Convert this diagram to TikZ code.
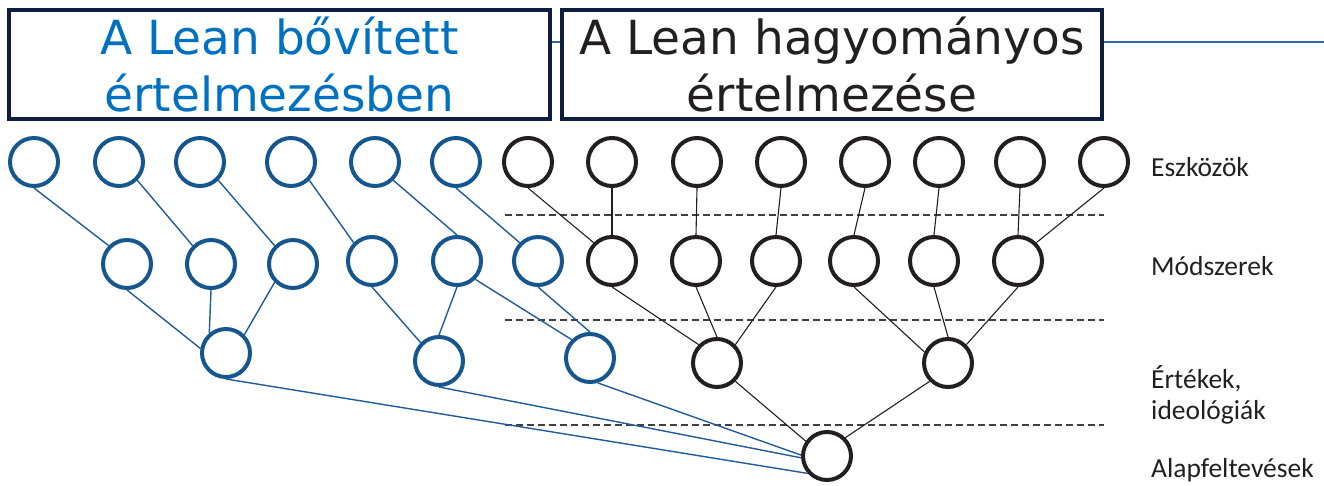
\documentclass[tikz,border=0pt]{standalone}
\usepackage{fontspec}
\setmainfont{Carlito}
\newfontfamily\titlefont{DejaVu Sans}
\definecolor{nodeblue}{HTML}{16568F}
\definecolor{lineblue}{HTML}{1F5C99}
\definecolor{titleblue}{HTML}{0070C0}
\definecolor{boxnavy}{HTML}{0E1E3E}
\definecolor{inkblack}{HTML}{231F20}
\definecolor{dashgray}{HTML}{404040}
\definecolor{rulelink}{HTML}{3A64A8}
\begin{document}
\begin{tikzpicture}[x=1pt,y=-1pt,
  bc/.style={circle, draw=nodeblue, line width=4pt, minimum size=48pt, inner sep=0pt},
  kc/.style={circle, draw=inkblack, line width=4pt, minimum size=48pt, inner sep=0pt},
  bl/.style={draw=lineblue, line width=1.4pt},
  kl/.style={draw=inkblack, line width=1.1pt},
  titlebox/.style={draw=boxnavy, line width=4pt, minimum width=541pt, minimum height=109pt,
    inner sep=0pt, align=center, font=\titlefont\fontsize{47}{57}\selectfont},
  lab/.style={anchor=base west, inner sep=0pt, text=inkblack, align=left,
    font=\fontsize{27.5}{31}\selectfont},
  sepline/.style={draw=dashgray, line width=1.3pt, dash pattern=on 7pt off 4pt},
  linkline/.style={draw=rulelink, line width=1.2pt}]
\useasboundingbox (0,0) rectangle (1324,486);

% title boxes
\node[titlebox, text=titleblue] (lbox) at (279.5,64.5) {A Lean bővített\\értelmezésben};
\node[titlebox, text=inkblack, minimum width=540pt] (rbox) at (832,64.5) {A Lean hagyományos\\értelmezése};
\coordinate (hl) at (0,42);
\coordinate (edge) at (1324,42);
\draw[linkline] (lbox.east |- hl) -- (rbox.west |- hl);
\draw[linkline] (rbox.east |- hl) -- (edge);

% separators
\coordinate (s1a) at (505,215); \coordinate (s1b) at (1104,215);
\coordinate (s2a) at (505,320); \coordinate (s2b) at (1104,320);
\coordinate (s3a) at (505,425); \coordinate (s3b) at (1104,425);
\draw[sepline] (s1a) -- (s1b);
\draw[sepline] (s2a) -- (s2b);
\draw[sepline] (s3a) -- (s3b);

% top row
\node[bc] (t1) at (34,162) {};
\node[bc] (t2) at (119,162) {};
\node[bc] (t3) at (200,162) {};
\node[bc] (t4) at (291,162) {};
\node[bc] (t5) at (375,162) {};
\node[bc] (t6) at (456,162) {};
\node[kc] (t7) at (528,162) {};
\node[kc] (t8) at (612,162) {};
\node[kc] (t9) at (697,162) {};
\node[kc] (t10) at (781,162) {};
\node[kc] (t11) at (865,162) {};
\node[kc] (t12) at (939,162) {};
\node[kc] (t13) at (1020,162) {};
\node[kc] (t14) at (1104,162) {};

% middle row
\node[bc] (m1) at (127,264) {};
\node[bc] (m2) at (211,264) {};
\node[bc] (m3) at (293,264) {};
\node[bc] (m4) at (372,261) {};
\node[bc] (m5) at (457,261) {};
\node[bc] (m6) at (538,261) {};
\node[kc] (m7) at (612,261) {};
\node[kc] (m8) at (696,261) {};
\node[kc] (m9) at (776,261) {};
\node[kc] (m10) at (854,261) {};
\node[kc] (m11) at (934,261) {};
\node[kc] (m12) at (1018,261) {};

% third row
\node[bc] (b1) at (226,353) {};
\node[bc] (b2) at (439,361) {};
\node[bc] (b3) at (590,358) {};
\node[kc] (b4) at (717,363) {};
\node[kc] (b5) at (948,363) {};

% root
\node[kc] (r) at (827,456) {};

% top -> middle
\draw[bl] (t1.south) -- (m1.north west);
\draw[bl] (t2.south east) -- (m2.north west);
\draw[bl] (t3.south east) -- (m3.north west);
\draw[bl] (t4.south east) -- (m4.north west);
\draw[bl] (t5.south east) -- (m5.north);
\draw[bl] (t6.south) -- (m6.north west);
\draw[kl] (t7.south) -- (m7.north west);
\draw[kl] (t8.south) -- (m7.north);
\draw[kl] (t9.south) -- (m8.north);
\draw[kl] (t10.south) -- (m9.north);
\draw[kl] (t11.south) -- (m10.north);
\draw[kl] (t12.south) -- (m11.north);
\draw[kl] (t13.south) -- (m12.north);
\draw[kl] (t14.south) -- (m12.north east);

% middle -> third
\draw[bl] (m1.south) -- (b1.170);
\draw[bl] (m2.south) -- (b1.130);
\draw[bl] (m3.south west) -- (b1.north east);
\draw[bl] (m4.south) -- (b2.north west);
\draw[bl] (m5.south) -- (b2.north);
\draw[bl] (m5.south east) -- (b3.north west);
\draw[bl] (m6.south) -- (b3.north);
\draw[kl] (m7.south) -- (b4.north west);
\draw[kl] (m8.south) -- (b4.north);
\draw[kl] (m9.south) -- (b4.north east);
\draw[kl] (m10.south) -- (b5.155);
\draw[kl] (m11.south) -- (b5.north);
\draw[kl] (m12.south) -- (b5.north east);

% third -> root
\draw[kl] (b4.south east) -- (r.145);
\draw[kl] (b5.south west) -- (r.north east);
\draw[bl] (b1.south) -- (r.222);
\draw[bl] (b2.south) -- (r.184);
\draw[bl] (b3.287) -- (r.178);

% level labels
\node[lab] (l1) at (1151,177) {Eszközök};
\node[lab] (l2) at (1151,276) {Módszerek};
\node[lab] (l3) at (1151,419) {Értékek,\\ideológiák};
\node[lab] (l4) at (1151,477) {Alapfeltevések};
\end{tikzpicture}
\end{document}
